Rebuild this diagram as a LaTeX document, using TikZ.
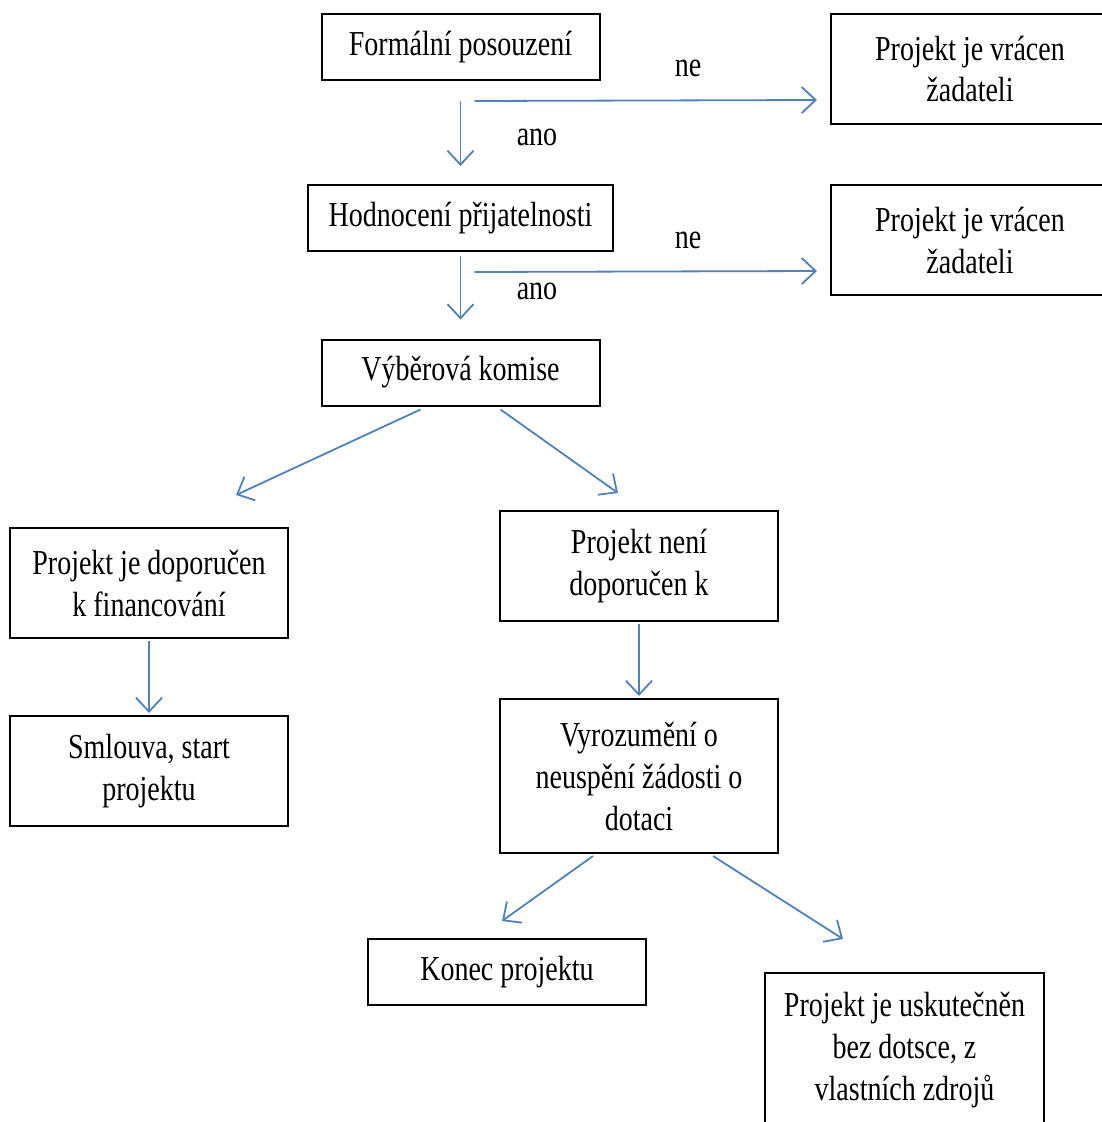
\documentclass[tikz,border=0pt]{standalone}
\usepackage{fontspec}
\setmainfont{Liberation Serif}[FakeStretch=0.8]
\usepackage{tikz}
\usetikzlibrary{arrows.meta,calc,positioning}
\definecolor{arrblue}{RGB}{79,129,189}

\begin{document}
\begin{tikzpicture}[x=1pt,y=-1pt,
    box/.style={draw,line width=2pt,minimum width=278pt,inner sep=0pt,align=center,
                font=\fontsize{35}{42}\selectfont},
    lbl/.style={font=\fontsize{35}{42}\selectfont,inner sep=0pt},
    arr/.style={draw=arrblue,line width=1.8pt,-{Straight Barb[length=14pt,width=26pt,line width=1.8pt]}}]
  \clip (0,0) rectangle (1102,1122);
  % upper part
  \node [box,minimum height=66pt] (formal) at (460.5,47) {\raisebox{-3pt}{Formální posouzení}};
  \node [box,minimum height=110pt] (vracen1) at (970,69) {Projekt je vrácen\\žadateli};
  \node [box,minimum height=66pt,minimum width=305pt] (hodnoceni) at (460.5,218) {\raisebox{-3pt}{Hodnocení přijatelnosti}};
  \node [box,minimum height=110pt] (vracen2) at (970,240) {Projekt je vrácen\\žadateli};
  \node [box,minimum height=66pt] (komise) at (460.5,372.5) {\raisebox{-3pt}{Výběrová komise}};
  % lower part
  \node [box,minimum height=110pt] (doporucen) at (149,583) {Projekt je doporučen\\k financování};
  \node [box,minimum height=110pt] (nedoporucen) at (639,566) {Projekt není\\doporučen k};
  \node [box,minimum height=110pt] (smlouva) at (149,771) {Smlouva, start\\projektu};
  \node [box,minimum height=154pt] (vyrozumeni) at (639,776) {Vyrozumění o\\neuspění žádosti o\\dotaci};
  \node [box,minimum height=66pt] (konec) at (507,972) {\raisebox{-3pt}{Konec projektu}};
  \node [box,minimum height=154pt,minimum width=279pt] (vlastni) at (904.5,1050) {Projekt je uskutečněn\\bez dotsce, z\\vlastních zdrojů};
  % labels
  \node [lbl] (ne1) at (688,68) {ne};
  \node [lbl] (ano1) at (537,137) {ano};
  \node [lbl] (ne2) at (688,240) {ne};
  \node [lbl] (ano2) at (537,291) {ano};
  % free ends
  \coordinate (ne1a) at ($(formal.south)+(14,20)$);
  \coordinate (ne1b) at ($(vracen1.west)+(-13,31)$);
  \coordinate (ne2a) at ($(hodnoceni.south)+(14,20)$);
  \coordinate (ne2b) at ($(vracen2.west)+(-13,31)$);
  \coordinate (komA) at ($(komise.south)+(-40,3)$);
  \coordinate (komB) at ($(komise.south)+(40,3)$);
  \coordinate (doporA) at (236,495);
  \coordinate (nedopA) at (618,493);
  \coordinate (vyrA) at ($(vyrozumeni.south)+(-46,2)$);
  \coordinate (vyrB) at ($(vyrozumeni.south)+(74,2)$);
  \coordinate (konecA) at (502,921);
  \coordinate (vlastA) at (843,939);
  % arrows
  \draw [arr,shorten <=20pt,shorten >=18pt] (formal.south) -- (hodnoceni.north);
  \draw [arr] (ne1a) -- (ne1b);
  \draw [arr,shorten <=4pt,shorten >=19pt] (hodnoceni.south) -- (komise.north);
  \draw [arr] (ne2a) -- (ne2b);
  \draw [arr] (komA) -- (doporA);
  \draw [arr] (komB) -- (nedopA);
  \draw [arr,shorten <=2pt,shorten >=2pt] (doporucen.south) -- (smlouva.north);
  \draw [arr,shorten <=2pt,shorten >=2pt] (nedoporucen.south) -- (vyrozumeni.north);
  \draw [arr] (vyrA) -- (konecA);
  \draw [arr] (vyrB) -- (vlastA);
\end{tikzpicture}
\end{document}
